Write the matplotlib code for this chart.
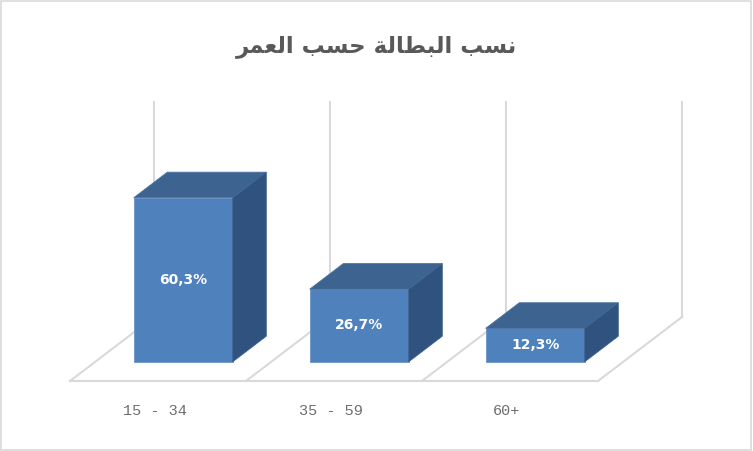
import matplotlib.pyplot as plt
from matplotlib.patches import Rectangle

# data
categories = ["15 - 34", "35 - 59", "60+"]
values = [60.3, 26.7, 12.3]
value_labels = ["60,3%", "26,7%", "12,3%"]
title = "نسب البطالة حسب العمر"
y_max = 80

# arabic presentation forms: isolated, final, initial, medial
FORMS = {
    'ا': ('\uFE8D', '\uFE8E', None, None),
    'ب': ('\uFE8F', '\uFE90', '\uFE91', '\uFE92'),
    'ة': ('\uFE93', '\uFE94', None, None),
    'ح': ('\uFEA1', '\uFEA2', '\uFEA3', '\uFEA4'),
    'ر': ('\uFEAD', '\uFEAE', None, None),
    'س': ('\uFEB1', '\uFEB2', '\uFEB3', '\uFEB4'),
    'ط': ('\uFEC1', '\uFEC2', '\uFEC3', '\uFEC4'),
    'ع': ('\uFEC9', '\uFECA', '\uFECB', '\uFECC'),
    'ل': ('\uFEDD', '\uFEDE', '\uFEDF', '\uFEE0'),
    'م': ('\uFEE1', '\uFEE2', '\uFEE3', '\uFEE4'),
    'ن': ('\uFEE5', '\uFEE6', '\uFEE7', '\uFEE8'),
}

def shape(text):
    out = []
    for i, c in enumerate(text):
        if c not in FORMS:
            out.append(c)
            continue
        prev = text[i - 1] if i > 0 else ''
        nxt = text[i + 1] if i + 1 < len(text) else ''
        jp = prev in FORMS and FORMS[prev][2] is not None
        jn = FORMS[c][2] is not None and nxt in FORMS
        if jp and jn:
            f = FORMS[c][3]
        elif jp:
            f = FORMS[c][1]
        elif jn:
            f = FORMS[c][2]
        else:
            f = FORMS[c][0]
        out.append(f)
    return ''.join(reversed(out))

front = '#4F81BD'
top_c = '#3D6390'
side_c = '#30527E'
grid_c = '#D9D9D9'
text_c = '#595959'

fig = plt.figure(figsize=(7.53, 4.51), dpi=100)
ax = fig.add_axes([0, 0, 1, 1])
ax.set_xlim(-158 / 176, (753 - 158) / 176)
ax.set_ylim(-(451 - 381) / 2.72, 381 / 2.72)
ax.axis('off')

n = len(categories)
dx, dy = 84 / 176, 64 / 2.72     # floor depth in data units
bw = 99 / 176                    # bar width
f0, f1 = 0.3, 0.7                # bar front / back as fraction of depth

# floor
left, right = -0.5, n - 0.5
ax.plot([left, right], [0, 0], color=grid_c, lw=1.5, zorder=1)
for b in range(n + 1):
    xb = b - 0.5
    ax.plot([xb, xb + dx], [0, dy], color=grid_c, lw=1.5, zorder=1)
    ax.plot([xb + dx, xb + dx], [dy, dy + y_max - 1], color=grid_c, lw=1.5, zorder=1)

# bars
xs = [i + f0 * dx for i in range(n)]
ax.bar(xs, values, width=bw, bottom=f0 * dy, color=front, edgecolor='#6A94C8', lw=0.6, zorder=3)
ddx, ddy = (f1 - f0) * dx, (f1 - f0) * dy
for x, v in zip(xs, values):
    x0, x1 = x - bw / 2, x + bw / 2
    y0, y1 = f0 * dy, f0 * dy + v
    ax.fill([x0, x1, x1 + ddx, x0 + ddx], [y1, y1, y1 + ddy, y1 + ddy],
            color=top_c, ec='#4A72A3', lw=0.6, zorder=3)
    ax.fill([x1, x1 + ddx, x1 + ddx, x1], [y0, y0 + ddy, y1 + ddy, y1],
            color=side_c, ec='#3E6491', lw=0.6, zorder=3)

for x, v, lab in zip(xs, values, value_labels):
    ax.text(x, f0 * dy + v / 2, lab, ha='center', va='center', color='white',
            fontsize=10, fontweight='bold', family='DejaVu Sans', zorder=4)

for i, cat in enumerate(categories):
    ax.text(i - 0.02, -11, cat, ha='center', va='center', color='#6E6E6E',
            fontsize=11, family='Liberation Mono')

ax.text(0.5, 1 - 47 / 451, shape(title), transform=ax.transAxes, ha='center',
        va='center', fontsize=16.5, fontweight='bold', color=text_c, family='DejaVu Sans')

fig.patches.append(Rectangle((0.001, 0.002), 0.997, 0.996, transform=fig.transFigure,
                             fill=False, ec=grid_c, lw=1.2))

fig.savefig('out.png', dpi=100)
